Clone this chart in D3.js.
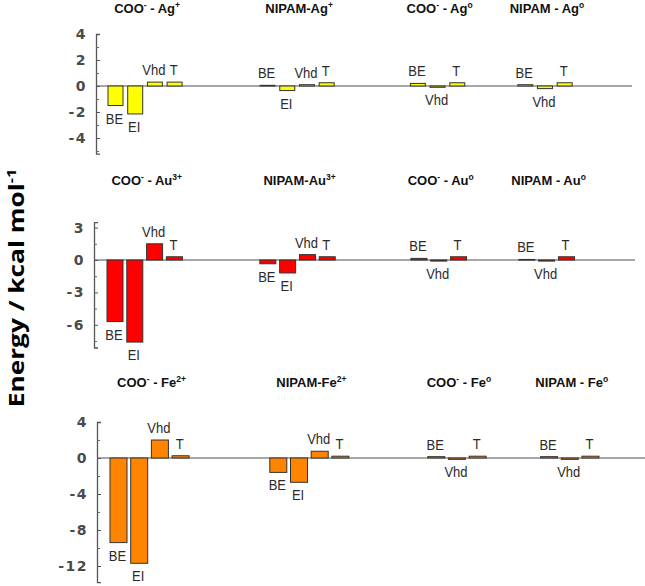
<!DOCTYPE html>
<html>
<head>
<meta charset="utf-8">
<script src="https://cdn.jsdelivr.net/npm/d3@7/dist/d3.min.js"></script>
<style>
  html, body { margin: 0; padding: 0; background: #fff; }
  svg { display: block; }
</style>
</head>
<body>
<svg id="chart" width="645" height="586"></svg>
<script>
// ---------------- DATA ----------------
const ionLabels = ["BE", "EI", "Vhd", "T"];
const neutralLabels = ["BE", "Vhd", "T"];

const agTitles = ["COO^{-} - Ag^{+}", "NIPAM-Ag^{+}", "COO^{-} - Ag^{o}", "NIPAM - Ag^{o}"];
const auTitles = ["COO^{-} - Au^{3+}", "NIPAM-Au^{3+}", "COO^{-} - Au^{o}", "NIPAM - Au^{o}"];
const feTitles = ["COO^{-} - Fe^{2+}", "NIPAM-Fe^{2+}", "COO^{-} - Fe^{o}", "NIPAM - Fe^{o}"];

// values per group, in order of the bar labels (kcal/mol)
const agValues = [[-1.5, -2.15, 0.3, 0.3], [0.05, -0.35, 0.1, 0.25], [0.2, -0.1, 0.25], [0.1, -0.2, 0.25]];
const auValues = [[-5.7, -7.6, 1.5, 0.3], [-0.35, -1.2, 0.5, 0.3], [0.15, -0.1, 0.3], [0.05, -0.1, 0.3]];
const feValues = [[-9.4, -11.7, 2.0, 0.25], [-1.6, -2.7, 0.75, 0.2], [0.15, -0.15, 0.2], [0.15, -0.15, 0.2]];

const agTicks = [-4, -2, 0, 2, 4];
const auTicks = [-6, -3, 0, 3];
const feTicks = [-12, -8, -4, 0, 4];
const agMinor = [-5, -3, -1, 1, 3];
const auMinor = [-7.5, -4.5, -1.5, 1.5];
const feMinor = [-10, -6, -2, 2];

const yTitle = "Energy / kcal mol^{-1}";

// ---------------- LAYOUT ----------------
const groupSlots = [0, 7.72, 15.35, 20.8];
const panels = [
  { values: agValues, titles: agTitles, ticks: agTicks, minor: agMinor, domain: [-5.2, 4],
    fill: "#ffff00", axisX: 96, x0: 108, pitch: 19.7, barW: 15, y0: 86, unit: 13, titleY: 13, lineEnd: 632 },
  { values: auValues, titles: auTitles, ticks: auTicks, minor: auMinor, domain: [-8.1, 3.5],
    fill: "#ff0000", axisX: 94, x0: 107, pitch: 19.8, barW: 16, y0: 260, unit: 10.8, titleY: 185, lineEnd: 635 },
  { values: feValues, titles: feTitles, ticks: feTicks, minor: feMinor, domain: [-13.8, 4],
    fill: "#ff8400", axisX: 97, x0: 110, pitch: 20.7, barW: 17, y0: 458, unit: 9, titleY: 387, lineEnd: 645 }
];

const svg = d3.select("#chart");

function richText(sel, str, baseSize, supSize) {
  const parts = [];
  const re = /\^\{([^}]*)\}/g;
  let last = 0, m;
  while ((m = re.exec(str)) !== null) {
    if (m.index > last) parts.push({ t: str.slice(last, m.index), sup: false });
    parts.push({ t: m[1], sup: true });
    last = re.lastIndex;
  }
  if (last < str.length) parts.push({ t: str.slice(last), sup: false });
  let prevSup = false;
  parts.forEach(p => {
    const ts = sel.append("tspan").text(p.t);
    if (p.sup && !prevSup) ts.attr("dy", -baseSize * 0.38).attr("font-size", supSize);
    else if (!p.sup && prevSup) ts.attr("dy", baseSize * 0.38).attr("font-size", baseSize);
    else if (p.sup) ts.attr("font-size", supSize);
    prevSup = p.sup;
  });
}

panels.forEach(P => {
  const g = svg.append("g");
  const y = d3.scaleLinear().domain(P.domain)
    .range([P.y0 - P.domain[0] * P.unit, P.y0 - P.domain[1] * P.unit]);
  const x = d3.scaleLinear().domain([0, 1]).range([P.x0, P.x0 + P.pitch]);

  // zero line
  g.append("line")
    .attr("x1", P.axisX).attr("x2", P.lineEnd)
    .attr("y1", y(0)).attr("y2", y(0))
    .attr("stroke", "#8a8a8a").attr("stroke-width", 1.5);

  // axis
  const ax = g.append("g").attr("transform", `translate(${P.axisX},0)`)
    .call(d3.axisLeft(y).tickValues(P.ticks).tickSizeInner(-4).tickSizeOuter(-4).tickPadding(9)
      .tickFormat(d3.format("d")));
  ax.select(".domain").attr("stroke", "#555").attr("stroke-width", 1.3);
  ax.selectAll(".tick line").attr("stroke", "#555");
  ax.selectAll(".tick text")
    .attr("font-family", "DejaVu Sans, sans-serif").attr("font-weight", "bold")
    .attr("font-size", 14).attr("fill", "#4a4a4a").attr("letter-spacing", "1.5px")
    .text(d => d < 0 ? "-" + Math.abs(d) : d);
  const axm = g.append("g").attr("transform", `translate(${P.axisX},0)`)
    .call(d3.axisLeft(y).tickValues(P.minor).tickSize(-3).tickFormat(""));
  axm.select(".domain").remove();
  axm.selectAll(".tick line").attr("stroke", "#666");

  // groups
  P.values.forEach((vals, gi) => {
    const labels = vals.length === 4 ? ionLabels : neutralLabels;
    const bars = vals.map((v, i) => ({ v, lab: labels[i], slot: groupSlots[gi] + i }));
    const gg = g.append("g");
    gg.selectAll("rect").data(bars).join("rect")
      .attr("x", d => x(d.slot))
      .attr("width", P.barW)
      .attr("y", d => Math.min(y(d.v), y(0)))
      .attr("height", d => Math.max(Math.abs(y(d.v) - y(0)), 0.6))
      .attr("fill", P.fill)
      .attr("stroke", "#333").attr("stroke-width", 1);

    gg.selectAll("text.lab").data(bars).join("text")
      .attr("class", "lab")
      .attr("transform", d => {
        const cx = x(d.slot) + P.barW / 2 - 1;
        const by = d.v >= 0 ? y(d.v) - 7 : y(d.v) + 18;
        return `translate(${cx},${by}) scale(1,1.18)`;
      })
      .attr("text-anchor", "middle")
      .attr("font-family", "Liberation Sans, Arial, sans-serif")
      .attr("font-size", 13).attr("fill", "#2b2b2b")
      .text(d => d.lab);

    // title
    const cx = (x(bars[0].slot) + x(bars[bars.length - 1].slot) + P.barW) / 2 + 2;
    const t = g.append("text")
      .attr("x", cx).attr("y", P.titleY)
      .attr("text-anchor", "middle")
      .attr("font-family", "Liberation Sans, Arial, sans-serif")
      .attr("font-weight", "bold").attr("font-size", 13).attr("fill", "#111");
    richText(t, P.titles[gi], 13, 8.5);
  });
});

// y-axis title
const yt = svg.append("text")
  .attr("transform", "translate(24,288) rotate(-90) scale(1.25,1)")
  .attr("text-anchor", "middle")
  .attr("font-family", "Open Sans, Noto Sans, sans-serif")
  .attr("font-weight", "bold").attr("font-size", 21).attr("fill", "#000");
richText(yt, yTitle, 21, 13);
</script>
</body>
</html>
